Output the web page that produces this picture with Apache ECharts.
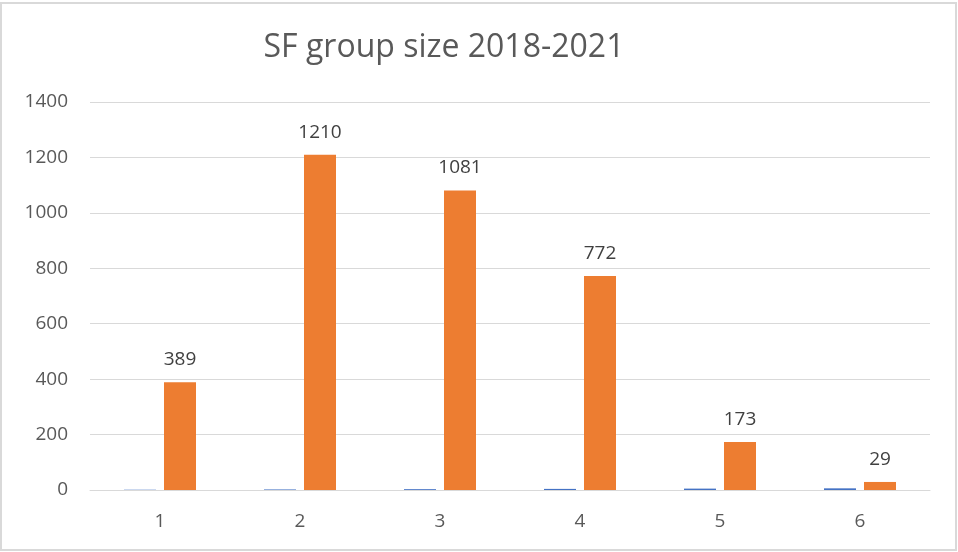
<!DOCTYPE html>
<html>
<head>
<meta charset="utf-8">
<script src="https://cdn.jsdelivr.net/npm/echarts@6/dist/echarts.min.js"></script>
<style>
  html, body { margin: 0; padding: 0; background: #fff; }
  #chart { width: 958px; height: 552px; }
</style>
</head>
<body>
<div id="chart"></div>
<script>
var categories = ["1", "2", "3", "4", "5", "6"];
var groupSize = [1, 2, 3, 4, 5, 6];
var counts = [389, 1210, 1081, 772, 173, 29];
var yTicks = [0, 200, 400, 600, 800, 1000, 1200, 1400];

var myChart = echarts.init(document.getElementById("chart"));
var font = "'Open Sans', 'Noto Sans', sans-serif";

var option = {
  animation: false,
  backgroundColor: "#fff",
  textStyle: { fontFamily: font },
  title: {
    text: "SF group size 2018-2021",
    left: 439,
    top: 27,
    textAlign: "center",
    textStyle: { fontSize: 32, fontWeight: "normal", color: "#595959", fontFamily: font }
  },
  graphic: [{
    type: "rect",
    shape: { x: 1, y: 3, width: 955, height: 547 },
    style: { fill: "none", stroke: "#d9d9d9", lineWidth: 2 }
  }],
  grid: { left: 90, right: 28, top: 102, bottom: 62 },
  xAxis: {
    type: "category",
    data: categories,
    axisTick: { show: false },
    axisLine: { lineStyle: { color: "#d9d9d9", width: 1 } },
    axisLabel: { color: "#595959", fontSize: 19, margin: 22 }
  },
  yAxis: {
    type: "value",
    min: yTicks[0],
    max: yTicks[yTicks.length - 1],
    interval: 200,
    axisLine: { show: false },
    axisTick: { show: false },
    splitLine: { lineStyle: { color: "#d9d9d9" } },
    axisLabel: {
      color: "#595959",
      fontSize: 19,
      margin: 22,
      formatter: function(v) { return String(v); }
    }
  },
  series: [
    {
      name: "Group size",
      type: "bar",
      data: groupSize,
      barWidth: 32,
      barGap: "25%",
      itemStyle: { color: "#4472c4" }
    },
    {
      name: "Count",
      type: "bar",
      data: counts,
      barWidth: 32,
      itemStyle: { color: "#ed7d31" },
      label: {
        show: true,
        position: "top",
        distance: 13,
        color: "#404040",
        fontSize: 19
      }
    }
  ]
};
myChart.setOption(option);
window.addEventListener("resize", function() {
  myChart.resize();
});
</script>
</body>
</html>
